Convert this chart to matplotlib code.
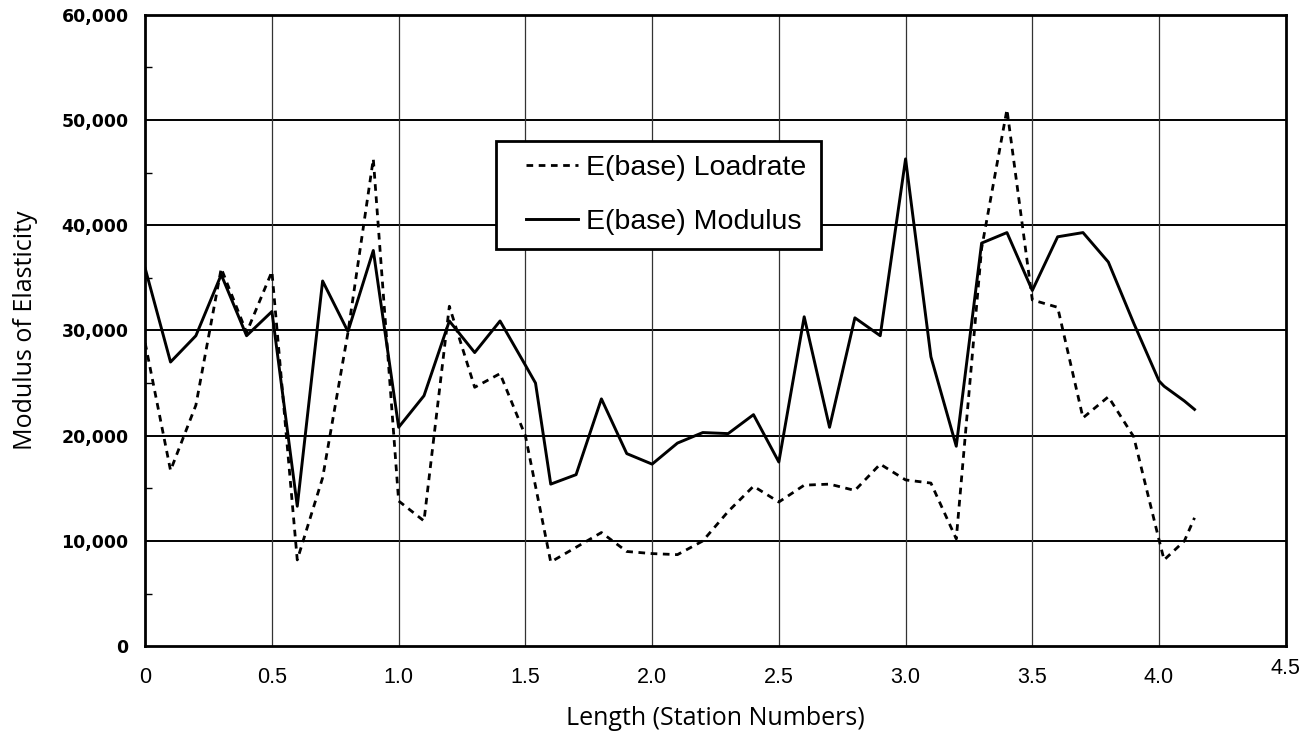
import matplotlib
matplotlib.use("Agg")
import matplotlib.pyplot as plt
from matplotlib import font_manager, transforms
from matplotlib.legend_handler import HandlerLine2D
from matplotlib.ticker import FixedLocator, FuncFormatter, MultipleLocator

# Station positions along the length
station = [0.0, 0.1, 0.2, 0.3, 0.4, 0.5, 0.6, 0.7, 0.8, 0.9,
           1.0, 1.1, 1.2, 1.3, 1.4, 1.5, 1.54, 1.6, 1.7, 1.8, 1.9,
           2.0, 2.1, 2.2, 2.3, 2.4, 2.5, 2.6, 2.7, 2.8, 2.9,
           3.0, 3.1, 3.2, 3.3, 3.4, 3.5, 3.6, 3.7, 3.8, 3.9,
           4.0, 4.02, 4.1, 4.14]

# Base-layer modulus backcalculated from load rate
e_base_loadrate = [28800, 16700, 22900, 35900, 29800, 35600, 8200, 16000, 29800, 46300,
                   13800, 11900, 32300, 24600, 25900, 20000, 15200, 8000, 9400, 10800, 9000,
                   8800, 8700, 10000, 12800, 15200, 13700, 15300, 15400, 14800, 17300,
                   15800, 15500, 10200, 37800, 51000, 32900, 32200, 21700, 23700, 19900,
                   10100, 8200, 10000, 12200]

# Base-layer modulus from the modulus analysis
e_base_modulus = [35900, 27000, 29500, 35300, 29500, 31800, 13300, 34700, 29900, 37600,
                  20800, 23800, 30900, 27900, 30900, 26700, 25000, 15400, 16300, 23500, 18300,
                  17300, 19300, 20300, 20200, 22000, 17500, 31300, 20800, 31200, 29500,
                  46300, 27500, 19000, 38300, 39300, 33800, 38900, 39300, 36500, 30700,
                  25200, 24700, 23300, 22500]

x_ticks = [0, 0.5, 1.0, 1.5, 2.0, 2.5, 3.0, 3.5, 4.0, 4.5]
x_tick_labels = ["0", "0.5", "1.0", "1.5", "2.0", "2.5", "3.0", "3.5", "4.0", "4.5"]
y_ticks = [0, 10000, 20000, 30000, 40000, 50000, 60000]


def pick_family(preferred, fallback):
    try:
        font_manager.findfont(font_manager.FontProperties(family=preferred),
                              fallback_to_default=False)
        return preferred
    except Exception:
        return fallback


class IndentedLine(HandlerLine2D):
    """Legend line that leaves some blank space before the sample."""

    def __init__(self, lead=0.55, **kw):
        super().__init__(**kw)
        self._lead = lead

    def get_xdata(self, legend, xdescent, ydescent, width, height, fontsize):
        x0 = -xdescent + self._lead * fontsize
        return [x0, -xdescent + width], [0.5 * (x0 - xdescent + width)]


narrow = pick_family("Liberation Sans Narrow", "Liberation Sans")

fig = plt.figure(figsize=(13.08, 7.36), dpi=100)
ax = fig.add_axes([0.111, 0.122, 0.872, 0.858])

ax.set_xlim(0, 4.5)
ax.set_ylim(0, 60000)

# grid
for yv in y_ticks[1:-1]:
    ax.axhline(yv, color="black", lw=1.4, zorder=1)
for xv in x_ticks[1:-1]:
    ax.axvline(xv, color="#333333", lw=0.9, zorder=1)

ln_load, = ax.plot(station, e_base_loadrate, color="black", lw=2.0,
                   linestyle=(0, (2.4, 2.0)), label="E(base) Loadrate", zorder=3)
ln_mod, = ax.plot(station, e_base_modulus, color="black", lw=2.1,
                  linestyle="-", label="E(base) Modulus", zorder=3)

for s in ax.spines.values():
    s.set_linewidth(2.0)
    s.set_color("black")

ax.xaxis.set_major_locator(FixedLocator(x_ticks))
ax.set_xticklabels(x_tick_labels)
ax.yaxis.set_major_locator(FixedLocator(y_ticks))
ax.yaxis.set_minor_locator(MultipleLocator(5000))
ax.yaxis.set_major_formatter(FuncFormatter(lambda v, p: f"{int(v):,}"))

ax.tick_params(axis="x", which="major", length=0, pad=15, labelsize=15.5)
ax.tick_params(axis="y", which="major", length=0, pad=12, labelsize=12.5)
ax.tick_params(axis="y", which="minor", length=5, width=1, direction="in")
for lab in ax.get_yticklabels():
    lab.set_fontfamily("DejaVu Sans")
    lab.set_fontweight("bold")
for lab in ax.get_xticklabels():
    lab.set_fontfamily(narrow)
# the last station label sits a little higher
last = ax.get_xticklabels()[-1]
last.set_transform(last.get_transform() +
                   transforms.ScaledTranslation(0, 9 / 100, fig.dpi_scale_trans))

ax.set_xlabel("Length (Station Numbers)", fontsize=18, family="Open Sans", labelpad=13)
ax.set_ylabel("Modulus of Elasticity", fontsize=18, family="Open Sans", labelpad=17)

handler = IndentedLine(lead=0.55)
leg = ax.legend(handles=[ln_load, ln_mod], loc="upper left",
                bbox_to_anchor=(0.308, 0.800), frameon=True,
                fancybox=False, edgecolor="black", framealpha=1.0,
                prop={"family": "Liberation Sans", "size": 20.5},
                handlelength=2.35, handletextpad=0.3, borderpad=0.5,
                labelspacing=0.98, borderaxespad=0,
                handler_map={ln_load: handler, ln_mod: handler})
leg.get_frame().set_linewidth(2.0)
leg.set_zorder(5)

fig.savefig("out.png", dpi=100, facecolor="white")
